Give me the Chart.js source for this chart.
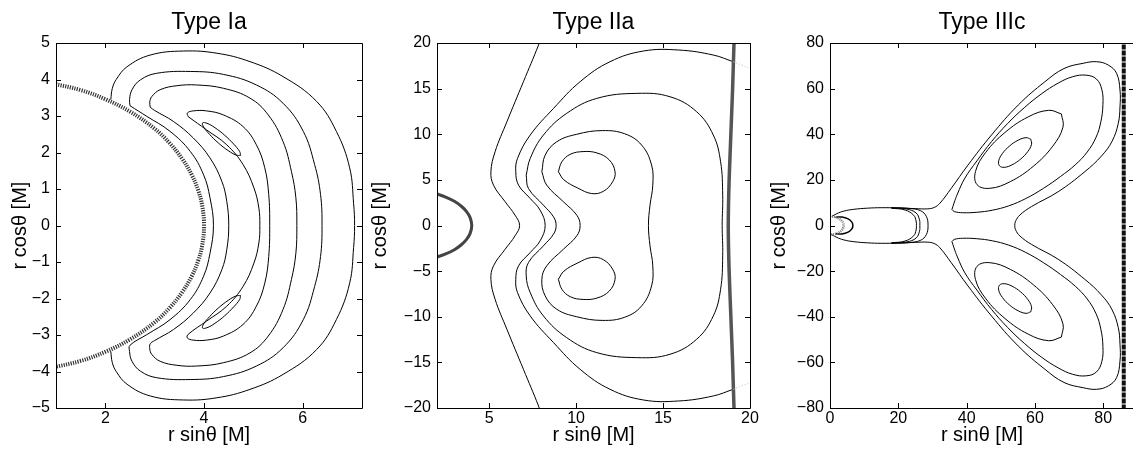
<!DOCTYPE html>
<html>
<head>
<meta charset="utf-8">
<script src="https://cdn.jsdelivr.net/npm/chart.js@4.4.0/dist/chart.umd.min.js"></script>
<style>
  html, body { margin: 0; padding: 0; background: #fff; overflow: hidden; }
  body { width: 1133px; height: 462px; position: relative; }
  canvas { position: absolute; top: 0; }
</style>
</head>
<body>
<canvas id="c1" width="375" height="462" style="left:0px"></canvas>
<canvas id="c2" width="400" height="462" style="left:364px"></canvas>
<canvas id="c3" width="380" height="462" style="left:760px"></canvas>
<script>
// ---- Type Ia ----
const ia_xticks = [2, 4, 6];
const ia_yticks = [-5, -4, -3, -2, -1, 0, 1, 2, 3, 4, 5];
const ia_wall = [[0.9,3.9],[1.5,3.71],[2.0,3.46],[2.5,3.12],[3.0,2.65],[3.3,2.26],[3.55,1.84],[3.75,1.39],[3.88,0.97],[3.96,0.56],[4.0,0],[3.96,-0.56],[3.88,-0.97],[3.75,-1.39],[3.55,-1.84],[3.3,-2.26],[3.0,-2.65],[2.5,-3.12],[2.0,-3.46],[1.5,-3.71],[0.9,-3.9]];
const ia_c1 = [[2.11,3.45],[2.14,3.75],[2.22,4.0],[2.44,4.35],[2.91,4.67],[3.58,4.78],[4.26,4.72],[4.93,4.49],[5.6,4.08],[6.28,3.4],[6.68,2.58],[6.95,1.58],[7.03,0.6],[7.05,0],[7.03,-0.6],[6.95,-1.58],[6.68,-2.58],[6.28,-3.4],[5.6,-4.08],[4.93,-4.49],[4.26,-4.72],[3.58,-4.78],[2.91,-4.67],[2.44,-4.35],[2.22,-4.0],[2.14,-3.75],[2.11,-3.45]];
const ia_c2 = [[2.5,3.28],[2.49,3.45],[2.54,3.72],[2.71,3.99],[3.04,4.17],[3.72,4.22],[4.39,4.14],[5.06,3.85],[5.6,3.35],[6.01,2.58],[6.24,1.67],[6.36,0.85],[6.39,0],[6.36,-0.85],[6.24,-1.67],[6.01,-2.58],[5.6,-3.35],[5.06,-3.85],[4.39,-4.14],[3.72,-4.22],[3.04,-4.17],[2.71,-3.99],[2.54,-3.72],[2.49,-3.45],[2.5,-3.28],[2.84,-2.99],[3.31,-2.58],[3.72,-2.03],[3.99,-1.39],[4.12,-0.76],[4.19,0],[4.12,0.76],[3.99,1.39],[3.72,2.03],[3.31,2.58],[2.84,2.99],[2.5,3.28]];
const ia_c3 = [[2.91,3.24],[2.9,3.38],[2.94,3.53],[3.11,3.72],[3.45,3.83],[3.85,3.85],[4.39,3.76],[4.93,3.49],[5.3,3.03],[5.6,2.3],[5.77,1.48],[5.86,0.76],[5.88,0],[5.86,-0.76],[5.77,-1.48],[5.6,-2.3],[5.3,-3.03],[4.93,-3.49],[4.39,-3.76],[3.85,-3.85],[3.45,-3.83],[3.11,-3.72],[2.94,-3.53],[2.9,-3.38],[2.91,-3.24],[3.0,-3.15],[3.38,-2.85],[3.78,-2.4],[4.12,-1.85],[4.36,-1.21],[4.46,-0.66],[4.5,0],[4.46,0.66],[4.36,1.21],[4.12,1.85],[3.78,2.4],[3.38,2.85],[3.0,3.15],[2.91,3.24]];
const ia_c4 = [[3.68,2.98],[3.66,3.08],[3.78,3.14],[4.05,3.14],[4.39,3.03],[4.79,2.71],[5.06,2.21],[5.23,1.58],[5.31,0.85],[5.33,0],[5.31,-0.85],[5.23,-1.58],[5.06,-2.21],[4.79,-2.71],[4.39,-3.03],[4.05,-3.14],[3.78,-3.14],[3.66,-3.08],[3.68,-2.98],[4.05,-2.62],[4.46,-2.21],[4.79,-1.67],[5.01,-1.03],[5.11,-0.48],[5.13,0],[5.11,0.48],[5.01,1.03],[4.79,1.67],[4.46,2.21],[4.05,2.62],[3.68,2.98]];
const ia_c5a = [[4.74,1.92],[4.65,1.93],[4.49,2.05],[4.29,2.26],[4.11,2.5],[3.99,2.7],[3.97,2.81],[4.06,2.8],[4.22,2.68],[4.42,2.47],[4.6,2.23],[4.72,2.03],[4.74,1.92]];
const ia_c5b = [[4.74,-1.92],[4.65,-1.93],[4.49,-2.05],[4.29,-2.26],[4.11,-2.5],[3.99,-2.7],[3.97,-2.81],[4.06,-2.8],[4.22,-2.68],[4.42,-2.47],[4.6,-2.23],[4.72,-2.03],[4.74,-1.92]];

// ---- Type IIa ----
const iia_xticks = [5, 10, 15, 20];
const iia_yticks = [-20, -15, -10, -5, 0, 5, 10, 15, 20];
const iia_inner = [[1.8,3.57],[2.0,3.46],[2.5,3.12],[3.0,2.65],[3.4,2.11],[3.7,1.52],[3.9,0.89],[4.0,0],[3.9,-0.89],[3.7,-1.52],[3.4,-2.11],[3.0,-2.65],[2.5,-3.12],[2.0,-3.46],[1.8,-3.57]];
const iia_outer = [[19.1,20.5],[19.08,20],[19.0,15],[18.9,10],[18.8,5],[18.75,0],[18.8,-5],[18.9,-10],[19.0,-15],[19.08,-20],[19.1,-20.5]];
const iia_l1 = [[7.95,20.5],[7.84,19.78],[6.97,15.76],[6.02,11.37],[5.34,8.08],[5.1,5.89],[5.25,4.42],[5.92,2.6],[6.49,1.13],[6.75,0],[6.49,-1.13],[5.92,-2.6],[5.25,-4.42],[5.1,-5.89],[5.34,-8.08],[6.02,-11.37],[6.97,-15.76],[7.84,-19.78],[7.95,-20.5]];
const iia_l2 = [[19.04,17.95],[17.89,18.68],[15.9,19.23],[13.87,19.12],[11.95,17.95],[10.23,15.76],[8.7,12.83],[7.36,9.91],[6.63,7.35],[6.53,5.89],[6.69,4.42],[7.36,2.96],[7.93,1.68],[8.22,0],[7.93,-1.68],[7.36,-2.96],[6.69,-4.42],[6.53,-5.89],[6.63,-7.35],[7.36,-9.91],[8.7,-12.83],[10.23,-15.76],[11.95,-17.95],[13.87,-19.12],[15.9,-19.23],[17.89,-18.68],[19.04,-17.95]];
const iia_l2tailA = [[19.04,17.95],[19.5,17.6],[20.3,17.0]];
const iia_l2tailB = [[19.04,-17.95],[19.5,-17.6],[20.3,-17.0]];
const iia_l3 = [[7.13,5.52],[7.36,7.35],[8.12,9.91],[9.46,12.29],[11.19,13.93],[13.49,14.48],[15.4,14.11],[16.93,12.47],[17.89,9.91],[18.31,6.98],[18.43,3.33],[18.4,0],[18.43,-3.33],[18.31,-6.98],[17.89,-9.91],[16.93,-12.47],[15.4,-14.11],[13.49,-14.48],[11.19,-13.93],[9.46,-12.29],[8.12,-9.91],[7.36,-7.35],[7.13,-5.52],[7.26,-4.06],[8.12,-2.23],[8.7,-0.95],[8.85,0],[8.7,0.95],[8.12,2.23],[7.26,4.06],[7.13,5.52]];
const iia_l4 = [[8.03,5.89],[8.22,7.71],[8.89,9.18],[10.04,10.0],[11.5,10.4],[12.8,10.05],[13.77,8.81],[14.34,6.62],[14.41,4.42],[14.25,2.23],[14.16,0],[14.25,-2.23],[14.41,-4.42],[14.34,-6.62],[13.77,-8.81],[12.8,-10.05],[11.5,-10.4],[10.04,-10.0],[8.89,-9.18],[8.22,-7.71],[8.03,-5.89],[8.31,-4.42],[9.27,-2.6],[10.04,-1.13],[10.23,0],[10.04,1.13],[9.27,2.6],[8.31,4.42],[8.03,5.89]];
const iia_e1 = [[8.98,5.89],[9.18,6.98],[9.66,7.8],[10.4,8.1],[11.2,7.95],[11.9,7.2],[12.24,5.89],[12.1,4.79],[11.57,3.75],[10.9,3.5],[10.1,4.1],[9.3,5.0],[8.98,5.89]];
const iia_e2 = [[8.98,-5.89],[9.18,-6.98],[9.66,-7.8],[10.4,-8.1],[11.2,-7.95],[11.9,-7.2],[12.24,-5.89],[12.1,-4.79],[11.57,-3.75],[10.9,-3.5],[10.1,-4.1],[9.3,-5.0],[8.98,-5.89]];

// ---- Type IIIc ----
const iiic_xticks = [0, 20, 40, 60, 80];
const iiic_yticks = [-80, -60, -40, -20, 0, 20, 40, 60, 80];
const iiic_inner = [[0,4],[1.5,3.71],[2.5,3.12],[3.3,2.26],[3.8,1.25],[4.0,0],[3.8,-1.25],[3.3,-2.26],[2.5,-3.12],[1.5,-3.71],[0,-4]];
const iiic_small = [[1.6,3.6],[3.5,3.7],[5.3,2.9],[6.4,1.5],[6.7,0],[6.4,-1.5],[5.3,-2.9],[3.5,-3.7],[1.6,-3.6]];
const iiic_outer = [[86.0,82],[86.0,0],[86.0,-82]];
const iiic_o = [[0.5,4.0],[2,5.2],[4,6.3],[7,7.1],[11,7.6],[15,7.8],[20,7.7],[25,7.4],[28.5,7.3],[30.5,7.9],[32.2,9.8],[35.5,16.3],[40.4,26.5],[47.3,39.7],[55.1,52.8],[62.9,63],[68.5,68.8],[74.1,71.1],[78.1,71.8],[81.5,70.3],[83.9,66.7],[84.9,59.4],[84.9,52],[84.4,44.8],[82.6,37],[79.5,30.5],[74.6,23.6],[66.8,14.8],[59,8.3],[55.6,4.6],[54.3,1.8],[54.1,0],[54.3,-1.8],[55.6,-4.6],[59,-8.3],[66.8,-14.8],[74.6,-23.6],[79.5,-30.5],[82.6,-37],[84.4,-44.8],[84.9,-52],[84.9,-59.4],[83.9,-66.7],[81.5,-70.3],[78.1,-71.8],[74.1,-71.1],[68.5,-68.8],[62.9,-63],[55.1,-52.8],[47.3,-39.7],[40.4,-26.5],[35.5,-16.3],[32.2,-9.8],[30.5,-7.9],[28.5,-7.3],[25,-7.4],[20,-7.7],[15,-7.8],[11,-7.6],[7,-7.1],[4,-6.3],[2,-5.2],[0.5,-4.0]];
const iiic_b1 = [[18,7.6],[22,6.8],[24.5,4.5],[25.2,2],[25.3,0],[25.2,-2],[24.5,-4.5],[22,-6.8],[18,-7.6]];
const iiic_b2 = [[18,7.7],[22.5,7.2],[25.2,5.5],[26.2,2.5],[26.3,0],[26.2,-2.5],[25.2,-5.5],[22.5,-7.2],[18,-7.7]];
const iiic_b3 = [[18,7.75],[23,7.5],[26.5,6.5],[28.2,4],[28.7,0],[28.2,-4],[26.5,-6.5],[23,-7.5],[18,-7.75]];
const iiic_p3a = [[35.7,7.0],[36.3,9.8],[37.3,13.8],[39.5,20.8],[43,28.3],[47.3,36.8],[52,44.7],[57,51.8],[62,57.8],[66.8,62.4],[71,65.2],[75,65.9],[78,64.2],[79.6,59.5],[79.9,53],[79.3,45.5],[77.9,38.7],[75.3,32.2],[71.8,26.6],[67.5,21.5],[62.5,16.3],[57.3,11.8],[52.3,8.6],[47.5,6.7],[43,5.8],[38.8,5.6],[36.4,6.1],[35.7,7.0]];
const iiic_p3b = [[35.7,-7.0],[36.3,-9.8],[37.3,-13.8],[39.5,-20.8],[43,-28.3],[47.3,-36.8],[52,-44.7],[57,-51.8],[62,-57.8],[66.8,-62.4],[71,-65.2],[75,-65.9],[78,-64.2],[79.6,-59.5],[79.9,-53],[79.3,-45.5],[77.9,-38.7],[75.3,-32.2],[71.8,-26.6],[67.5,-21.5],[62.5,-16.3],[57.3,-11.8],[52.3,-8.6],[47.5,-6.7],[43,-5.8],[38.8,-5.6],[36.4,-6.1],[35.7,-7.0]];
const iiic_p2a = [[67.75,48.9],[64.0,50.5],[58.0,47.6],[51.25,40.8],[45.6,32.05],[42.6,23.7],[43.05,17.9],[46.8,16.3],[52.8,19.25],[59.55,26.0],[65.2,34.75],[68.2,43.1],[67.75,48.9]];
const iiic_p2b = [[67.75,-48.9],[64.0,-50.5],[58.0,-47.6],[51.25,-40.8],[45.6,-32.05],[42.6,-23.7],[43.05,-17.9],[46.8,-16.3],[52.8,-19.25],[59.55,-26.0],[65.2,-34.75],[68.2,-43.1],[67.75,-48.9]];
const iiic_p1a = [[58.8,37.8],[57.4,38.5],[55.1,37.4],[52.6,34.9],[50.5,31.6],[49.4,28.4],[49.6,26.2],[51.0,25.5],[53.3,26.6],[55.8,29.1],[57.9,32.4],[59.0,35.6],[58.8,37.8]];
const iiic_p1b = [[58.8,-37.8],[57.4,-38.5],[55.1,-37.4],[52.6,-34.9],[50.5,-31.6],[49.4,-28.4],[49.6,-26.2],[51.0,-25.5],[53.3,-26.6],[55.8,-29.1],[57.9,-32.4],[59.0,-35.6],[58.8,-37.8]];

const FONT = "'Liberation Sans', Arial, Helvetica, sans-serif";

// box round the plot with inward ticks on all four sides, like the original
const frame = {
  id: 'frame',
  afterDraw(chart) {
    const { ctx, chartArea: a, scales: { x, y } } = chart;
    const L = 5;
    ctx.save();
    ctx.strokeStyle = '#000';
    ctx.lineWidth = 1;
    ctx.beginPath();
    ctx.rect(Math.round(a.left) + 0.5, Math.round(a.top) + 0.5, Math.round(a.right - a.left), Math.round(a.bottom - a.top));
    x.ticks.forEach(t => {
      const p = Math.round(x.getPixelForValue(t.value)) + 0.5;
      ctx.moveTo(p, a.bottom); ctx.lineTo(p, a.bottom - L);
      ctx.moveTo(p, a.top); ctx.lineTo(p, a.top + L);
    });
    y.ticks.forEach(t => {
      const p = Math.round(y.getPixelForValue(t.value)) + 0.5;
      ctx.moveTo(a.left, p); ctx.lineTo(a.left + L, p);
      ctx.moveTo(a.right, p); ctx.lineTo(a.right - L, p);
    });
    ctx.stroke();
    ctx.restore();
  }
};

const fmt = v => (v < 0 ? '\u2212' + Math.abs(v) : '' + v);

function line(pts, extra) {
  return Object.assign({
    data: pts.map(p => ({ x: p[0], y: p[1] })),
    showLine: true,
    pointRadius: 0,
    borderColor: '#000',
    borderWidth: 1,
    tension: 0.4,
    fill: false,
    clip: 0
  }, extra || {});
}

function makePanel(id, p) {
  new Chart(document.getElementById(id), {
    type: 'scatter',
    data: { datasets: p.lines },
    options: {
      responsive: false,
      animation: false,
      events: [],
      layout: { padding: { left: 0, right: p.padRight, top: 0, bottom: 0 } },
      plugins: {
        legend: { display: false },
        tooltip: { enabled: false },
        title: {
          display: true,
          text: p.title,
          color: '#000',
          fullSize: false,
          font: { family: FONT, size: 23, weight: 'normal' },
          padding: { top: 9, bottom: 6.4 }
        }
      },
      scales: {
        x: {
          type: 'linear',
          min: p.xmin, max: p.xmax,
          afterBuildTicks: s => { s.ticks = p.xticks.map(v => ({ value: v })); },
          afterFit: s => { s.height = 54; },
          grid: { display: false, drawTicks: false },
          border: { display: false },
          ticks: { color: '#000', padding: 1, maxRotation: 0, font: { family: FONT, size: 16 }, callback: fmt },
          title: { display: true, text: 'r sin\u03b8 [M]', color: '#000', font: { family: FONT, size: 20 }, padding: { top: 0, bottom: 15 } }
        },
        y: {
          type: 'linear',
          min: p.ymin, max: p.ymax,
          afterBuildTicks: s => { s.ticks = p.yticks.map(v => ({ value: v })); },
          afterFit: s => { s.width = p.yWidth; },
          grid: { display: false, drawTicks: false },
          border: { display: false },
          ticks: { color: '#000', padding: 6, font: { family: FONT, size: 16 }, callback: fmt },
          title: { display: true, text: 'r cos\u03b8 [M]', color: '#000', font: { family: FONT, size: 20 }, padding: { top: p.yTitlePad, bottom: 0 } }
        }
      }
    },
    plugins: [frame]
  });
}

makePanel('c1', {
  title: 'Type Ia', xmin: 1, xmax: 7.2, ymin: -5, ymax: 5,
  xticks: ia_xticks, yticks: ia_yticks, yWidth: 56, yTitlePad: 8, padRight: 13,
  lines: [
    line(ia_wall, { borderColor: '#333', borderWidth: 4, borderDash: [1.2, 1.2] }),
    line(ia_c1), line(ia_c2), line(ia_c3), line(ia_c4), line(ia_c5a), line(ia_c5b)
  ]
});

makePanel('c2', {
  title: 'Type IIa', xmin: 2, xmax: 20, ymin: -20, ymax: 20,
  xticks: iia_xticks, yticks: iia_yticks, yWidth: 73, yTitlePad: 4, padRight: 14,
  lines: [
    line(iia_inner, { borderColor: '#444', borderWidth: 3 }),
    line(iia_l2tailA, { borderColor: '#bbb', borderDash: [1, 2] }),
    line(iia_l2tailB, { borderColor: '#bbb', borderDash: [1, 2] }),
    line(iia_outer, { borderColor: '#555', borderWidth: 3.5, tension: 0.2 }),
    line(iia_l1), line(iia_l2), line(iia_l3), line(iia_l4), line(iia_e1), line(iia_e2)
  ]
});

makePanel('c3', {
  title: 'Type IIIc', xmin: 0, xmax: 89, ymin: -80, ymax: 80,
  xticks: iiic_xticks, yticks: iiic_yticks, yWidth: 70, yTitlePad: 7, padRight: 6,
  lines: [
    line(iiic_inner, { borderColor: '#777', borderWidth: 2.5, borderDash: [1, 1] }),
    line(iiic_outer, { borderColor: '#111', borderWidth: 4, borderDash: [5, 1], tension: 0 }),
    line(iiic_small, { borderWidth: 1.5 }),
    line(iiic_o), line(iiic_b1), line(iiic_b2), line(iiic_b3),
    line(iiic_p3a), line(iiic_p3b), line(iiic_p2a), line(iiic_p2b), line(iiic_p1a), line(iiic_p1b)
  ]
});
</script>
</body>
</html>
